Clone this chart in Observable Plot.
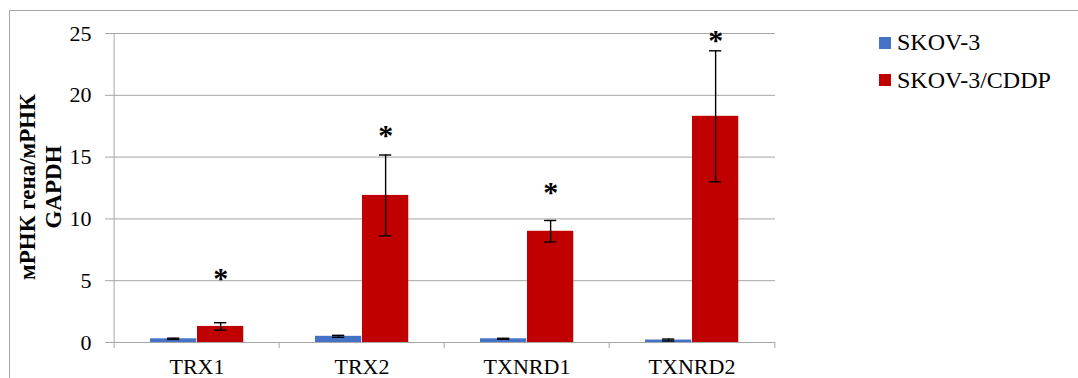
<!DOCTYPE html>
<html>
<head>
<meta charset="utf-8">
<script src="https://cdn.jsdelivr.net/npm/d3@7"></script>
<script src="https://cdn.jsdelivr.net/npm/@observablehq/plot@0.6"></script>
<style>
  body { margin: 0; background: #fff; }
  #chart { position: relative; width: 1078px; height: 378px; overflow: hidden;
           font-family: 'Liberation Serif', serif; }
  #frame { position: absolute; left: 9px; top: 10px; width: 1080px; height: 380px;
           border-top: 1px solid #a6a6a6; border-left: 1px solid #a6a6a6; }
  #plot { position: absolute; left: 0; top: 0; }
  #plot svg text { font-family: 'Liberation Serif', serif; }
  #legend { position: absolute; left: 879px; top: 28px; font-size: 24px; color: #000; }
  .item { display: flex; align-items: center; height: 29px; margin-bottom: 8.5px; white-space: nowrap; }
  .swatch { width: 12px; height: 12px; margin-right: 6px; flex: none; }
</style>
</head>
<body>
<div id="chart">
  <div id="frame"></div>
  <div id="plot"></div>
  <div id="legend"></div>
</div>
<script>
// Relative expression of thioredoxin-system genes (normalised to GAPDH)
const genes = ["TRX1", "TRX2", "TXNRD1", "TXNRD2"];
const series = ["SKOV-3", "SKOV-3/CDDP"];
const skov3 = [0.3, 0.5, 0.3, 0.2];
const skov3Err = [0.05, 0.08, 0.04, 0.08];
const cddp = [1.3, 11.9, 9.0, 18.3];
const cddpErr = [0.3, 3.27, 0.87, 5.3];
const starLevel = [5.5, 17.1, 12.5, 24.8];   // height of the significance asterisks
const yTicks = [0, 5, 10, 15, 20, 25];
const colors = ["#4472C4", "#C00000"];
const yTitle = "мРНК гена/мРНК\nGAPDH";

const values = [skov3, cddp];
const errors = [skov3Err, cddpErr];

const width = 1078, height = 378;
const margin = {top: 33, right: 303, bottom: 36, left: 112};
const step = (width - margin.left - margin.right) / genes.length;
const barW = 47, outerPad = 36, capW = 13;
const gray = "#a6a6a6";

const marks = [
  Plot.gridY(yTicks, {stroke: gray, strokeOpacity: 1, strokeWidth: 1}),
  // value axis line and category separators
  Plot.ruleX(genes.slice(0, 1), {x: d => d, dx: -step / 2, stroke: gray, insetBottom: -6}),
  Plot.ruleX(genes.slice(1), {x: d => d, dx: -step / 2, y1: 0, y2: 0, insetBottom: -6, stroke: gray}),
  Plot.ruleX(genes.slice(-1), {x: d => d, dx: step / 2, y1: 0, y2: 0, insetBottom: -6, stroke: gray}),
  Plot.axisY(yTicks, {tickSize: 7, tickPadding: 14, fontSize: 22, stroke: gray, fill: "#000", label: null}),
  Plot.axisX({tickSize: 0, tickPadding: 16, fontSize: 22, fill: "#000", label: null})
];

series.forEach((s, k) => {
  const rows = genes.map((g, i) => ({gene: g, value: values[k][i], err: errors[k][i]}));
  const left = outerPad + k * barW;
  const right = step - left - barW;
  const dx = left + barW / 2 - step / 2;
  const capInsetL = left + barW / 2 - capW / 2;
  const capInsetR = right + barW / 2 - capW / 2;
  marks.push(
    Plot.barY(rows, {x: "gene", y: "value", fill: colors[k], insetLeft: left, insetRight: right}),
    Plot.ruleX(rows, {x: "gene", y1: d => d.value - d.err, y2: d => d.value + d.err, dx, stroke: "#000", strokeWidth: 1.4}),
    Plot.tickY(rows, {x: "gene", y: d => d.value - d.err, insetLeft: capInsetL, insetRight: capInsetR, stroke: "#000", strokeWidth: 1.4}),
    Plot.tickY(rows, {x: "gene", y: d => d.value + d.err, insetLeft: capInsetL, insetRight: capInsetR, stroke: "#000", strokeWidth: 1.4})
  );
  if (k === 1) {
    marks.push(Plot.text(genes, {x: d => d, y: (d, i) => starLevel[i], text: () => "*", dx, dy: 4, fontSize: 30, fontWeight: "bold", fill: "#000"}));
  }
});

marks.push(Plot.text([yTitle], {frameAnchor: "left", textAnchor: "middle", lineAnchor: "middle", text: d => d, rotate: -90, dx: -73, dy: -1, fontSize: 23, fontWeight: "bold", lineHeight: 1.15, fill: "#000"}));

const chart = Plot.plot({
  width, height,
  marginTop: margin.top, marginRight: margin.right, marginBottom: margin.bottom, marginLeft: margin.left,
  style: {fontFamily: "Liberation Serif, serif", background: "transparent", color: "#000", overflow: "visible"},
  x: {type: "band", domain: genes, padding: 0},
  y: {domain: [0, 25]},
  marks
});
document.getElementById("plot").append(chart);

const legend = document.getElementById("legend");
series.forEach((s, k) => {
  const item = document.createElement("div");
  item.className = "item";
  const sw = document.createElement("span");
  sw.className = "swatch";
  sw.style.background = colors[k];
  const label = document.createElement("span");
  label.textContent = s;
  item.append(sw, label);
  legend.append(item);
});
</script>
</body>
</html>
